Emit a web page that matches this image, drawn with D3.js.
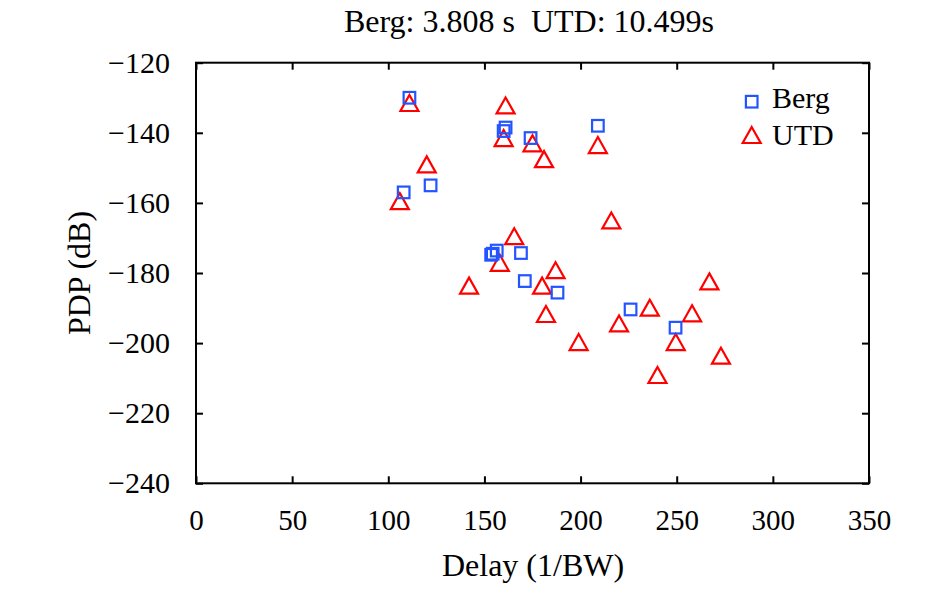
<!DOCTYPE html>
<html>
<head>
<meta charset="utf-8">
<script src="https://cdn.jsdelivr.net/npm/d3@7"></script>
<style>
	body { margin: 0; background: #fff; }
	text { font-family: "Liberation Serif", "Times New Roman", serif; fill: #000; white-space: pre; }
</style>
</head>
<body>
<script>
const w = 945,
	h = 591;

//measured delays / pdp values
const bergDelay = [111, 108, 122, 161, 160, 174, 209, 153.5, 154.3, 156.4, 169, 171, 188, 226, 249.4];
const bergPdp = [-130, -157, -155, -138.5, -139.5, -141.5, -138, -174.8, -174.5, -173.6, -174.3, -182.3, -185.6, -190.4, -195.6];
const utdDelay = [111, 161, 160, 175, 181, 209, 120, 106, 216, 165.5, 158, 142, 187, 180, 182, 199, 220, 236, 258, 249.5, 267, 273, 240];
const utdPdp = [-131.5, -132.2, -141.5, -143, -147.5, -143.5, -149, -159.5, -165, -169.5, -177.1, -183.6, -179.2, -183.6, -191.7, -199.7, -194.4, -189.9, -191.5, -199.7, -182.4, -203.6, -209.1];
const xTicks = [0, 50, 100, 150, 200, 250, 300, 350];
const yTicks = [-120, -140, -160, -180, -200, -220, -240];
const titleText = 'Berg: 3.808 s  UTD: 10.499s';

const margin = {top: 62.7, right: 76, bottom: 107.7, left: 196};

const svg = d3.select('body')
	.append('svg')
	.attr('width', w)
	.attr('height', h);

const x = d3.scaleLinear().domain([0, 350]).range([margin.left, w - margin.right]);
const y = d3.scaleLinear().domain([-240, -120]).range([h - margin.bottom, margin.top]);

const minus = (v) => v < 0 ? '\u2212' + Math.abs(v) : String(v);

//axes with inward ticks, mirrored on top / right
const tk = 7;
svg.append('g')
	.attr('transform', `translate(0,${y(-240)})`)
	.call(d3.axisBottom(x).tickValues(xTicks).tickSize(-tk).tickPadding(tk + 19).tickFormat(minus))
	.call((g) => g.selectAll('text').attr('font-size', 29).attr('font-family', '"Liberation Serif", serif'));
svg.append('g')
	.attr('transform', `translate(0,${y(-120)})`)
	.call(d3.axisTop(x).tickValues(xTicks).tickSize(-tk).tickFormat(''));
svg.append('g')
	.attr('transform', `translate(${x(0)},0)`)
	.call(d3.axisLeft(y).tickValues(yTicks).tickSize(-tk).tickPadding(tk + 19).tickFormat(minus))
	.call((g) => g.selectAll('text').attr('font-size', 30).attr('font-family', '"Liberation Serif", serif'));
svg.append('g')
	.attr('transform', `translate(${x(350)},0)`)
	.call(d3.axisRight(y).tickValues(yTicks).tickSize(-tk).tickFormat(''));

svg.selectAll('.domain').remove();
svg.selectAll('.tick line').attr('stroke', '#000').attr('stroke-width', 2);

//frame
svg.append('rect')
	.attr('x', x(0))
	.attr('y', y(-120))
	.attr('width', x(350) - x(0))
	.attr('height', y(-240) - y(-120))
	.attr('fill', 'none')
	.attr('stroke', '#000')
	.attr('stroke-width', 2);

const tri = 'M0,-8L9,8L-9,8Z';
const blue = '#2255ff',
	red = '#ff0000';

//UTD triangles
svg.append('g')
	.selectAll('path')
	.data(d3.zip(utdDelay, utdPdp))
	.enter()
	.append('path')
	.attr('d', tri)
	.attr('transform', (d) => `translate(${x(d[0])},${y(d[1])})`)
	.attr('fill', 'none')
	.attr('stroke', red)
	.attr('stroke-width', 2.2);

//Berg squares
svg.append('g')
	.selectAll('rect')
	.data(d3.zip(bergDelay, bergPdp))
	.enter()
	.append('rect')
	.attr('x', (d) => x(d[0]) - 5.8)
	.attr('y', (d) => y(d[1]) - 5.8)
	.attr('width', 11.6)
	.attr('height', 11.6)
	.attr('fill', 'none')
	.attr('stroke', blue)
	.attr('stroke-width', 2.2);

//legend
const legend = svg.append('g');
legend.append('rect')
	.attr('x', 751.7 - 5.8)
	.attr('y', 101.7 - 5.8)
	.attr('width', 11.6)
	.attr('height', 11.6)
	.attr('fill', 'none')
	.attr('stroke', blue)
	.attr('stroke-width', 2.2);
legend.append('path')
	.attr('d', tri)
	.attr('transform', 'translate(751.7,135)')
	.attr('fill', 'none')
	.attr('stroke', red)
	.attr('stroke-width', 2.2);
legend.append('text').attr('x', 772).attr('y', 108).attr('font-size', 30).text('Berg');
legend.append('text').attr('x', 772).attr('y', 145).attr('font-size', 30).text('UTD');

//title + axis labels
svg.append('text')
	.attr('x', 529)
	.attr('y', 31.5)
	.attr('text-anchor', 'middle')
	.attr('font-size', 32)
	.text(titleText);
svg.append('text')
	.attr('x', 533)
	.attr('y', 576)
	.attr('text-anchor', 'middle')
	.attr('font-size', 32)
	.text('Delay (1/BW)');
svg.append('text')
	.attr('transform', `translate(90,${(y(-120) + y(-240)) / 2}) rotate(-90)`)
	.attr('text-anchor', 'middle')
	.attr('font-size', 32)
	.text('PDP (dB)');
</script>
</body>
</html>
